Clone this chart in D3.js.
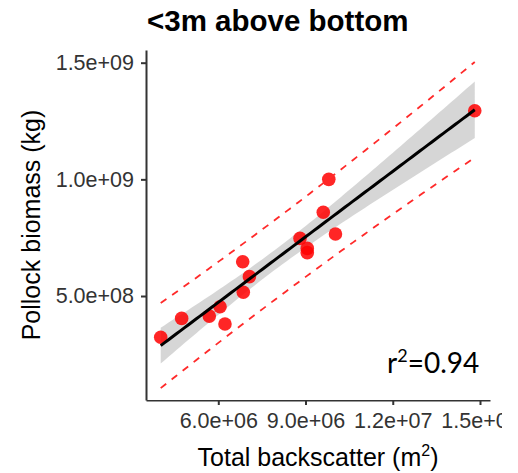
<!DOCTYPE html>
<html>
<head>
<meta charset="utf-8">
<script src="https://cdn.jsdelivr.net/npm/d3@7"></script>
<style>
  body { margin: 0; background: #fff; }
  svg text { font-family: "Liberation Sans", Arial, sans-serif; }
</style>
</head>
<body>
<div class="mainContainer"></div>
<script>
// values
var backscatter = [4.02e6, 4.74e6, 5.69e6, 6.06e6, 6.23e6, 6.84e6, 6.86e6, 7.07e6,
                   8.81e6, 9.06e6, 9.06e6, 9.61e6, 9.80e6, 10.03e6, 14.82e6];
var biomass = [3.23e8, 4.04e8, 4.14e8, 4.54e8, 3.80e8, 6.47e8, 5.16e8, 5.83e8,
               7.47e8, 7.04e8, 6.86e8, 8.59e8, 1.0e9, 7.66e8, 1.294e9];
var xTicks = [6e6, 9e6, 1.2e7, 1.5e7];
var yTicks = [5e8, 1e9, 1.5e9];
var rSquaredLabel = "0.94";

var W = 518, H = 473;
var pLeft = 146, pRight = 490, pTop = 50, pBottom = 400;

var svg = d3.select(".mainContainer").append("svg")
  .attr("width", W).attr("height", H);

var x = d3.scaleLinear().domain([3.514e6, 1.5344e7]).range([pLeft, pRight]);
var y = d3.scaleLinear().domain([5.43e7, 1.5544e9]).range([pBottom, pTop]);

// least squares fit, 95% confidence and prediction bands
var n = backscatter.length;
var mx = d3.mean(backscatter), my = d3.mean(biomass);
var sxx = d3.sum(backscatter, function(v) { return (v - mx) * (v - mx); });
var sxy = d3.sum(backscatter, function(v, i) { return (v - mx) * (biomass[i] - my); });
var slope = sxy / sxx, intercept = my - slope * mx;
var sse = d3.sum(backscatter, function(v, i) { var r = biomass[i] - (intercept + slope * v); return r * r; });
var s = Math.sqrt(sse / (n - 2));
var tq = 2.1604; // t(0.975, 13)

var xmin = d3.min(backscatter), xmax = d3.max(backscatter);
var grid = d3.range(0, 81).map(function(i) { return xmin + (xmax - xmin) * i / 80; });
var fit = grid.map(function(v) {
  var yh = intercept + slope * v;
  var d = (v - mx) * (v - mx) / sxx;
  var ci = tq * s * Math.sqrt(1 / n + d);
  var pi = tq * s * Math.sqrt(1 + 1 / n + d);
  return { x: v, y: yh, lo: yh - ci, hi: yh + ci, plo: yh - pi, phi: yh + pi };
});

// ribbon
svg.append("path").datum(fit)
  .attr("d", d3.area().x(function(d) { return x(d.x); }).y0(function(d) { return y(d.lo); }).y1(function(d) { return y(d.hi); }))
  .style("fill", "#999").style("opacity", 0.4);

// points
svg.selectAll("circle.pt").data(backscatter).enter().append("circle")
  .attr("class", "pt")
  .attr("cx", function(d) { return x(d); })
  .attr("cy", function(d, i) { return y(biomass[i]); })
  .attr("r", 6.8)
  .style("fill", "#ff0000").style("opacity", 0.85);

// fit line
svg.append("path").datum(fit)
  .attr("d", d3.line().x(function(d) { return x(d.x); }).y(function(d) { return y(d.y); }))
  .style("fill", "none").style("stroke", "#000").style("stroke-width", 3);

// prediction lines
["plo", "phi"].forEach(function(k) {
  svg.append("path").datum(fit)
    .attr("d", d3.line().x(function(d) { return x(d.x); }).y(function(d) { return y(d[k]); }))
    .style("fill", "none").style("stroke", "#ff2a2a").style("stroke-width", 1.8)
    .style("stroke-dasharray", "7,7");
});

// axes
function sci(v) {
  return d3.format(".1e")(v).replace(/e([+-])(\d)$/, "e$10$2");
}
svg.append("defs").append("clipPath").attr("id", "clipR")
  .append("rect").attr("x", 0).attr("y", 0).attr("width", 502).attr("height", H);

var xAxis = svg.append("g").attr("transform", "translate(0," + pBottom + ")")
  .attr("clip-path", "url(#clipR)")
  .call(d3.axisBottom(x).tickValues(xTicks).tickFormat(sci).tickSize(5).tickSizeOuter(0).tickPadding(8));
var yAxis = svg.append("g").attr("transform", "translate(" + pLeft + ",0)")
  .call(d3.axisLeft(y).tickValues(yTicks).tickFormat(sci).tickSize(5).tickSizeOuter(0).tickPadding(7));
[xAxis, yAxis].forEach(function(a) {
  a.select(".domain").style("stroke", "#333").style("stroke-width", 2);
  a.selectAll(".tick line").style("stroke", "#333").style("stroke-width", 2);
  a.selectAll(".tick text").style("fill", "#333").style("font-size", "21.5px")
    .style("font-family", "'Liberation Sans', Arial, sans-serif");
});

// title and labels
svg.append("text").attr("x", 147).attr("y", 31)
  .style("font-size", "29.5px").style("font-weight", "bold").style("fill", "#000")
  .text("<3m above bottom");

svg.append("text").attr("transform", "translate(40," + ((pTop + pBottom) / 2) + ") rotate(-90)")
  .attr("text-anchor", "middle").style("font-size", "25px").style("fill", "#000")
  .text("Pollock biomass (kg)");

var xl = svg.append("text").attr("x", (pLeft + pRight) / 2).attr("y", 466)
  .attr("text-anchor", "middle").style("font-size", "25px").style("fill", "#000");
xl.append("tspan").text("Total backscatter (m");
xl.append("tspan").attr("dy", -10).style("font-size", "16px").text("2");
xl.append("tspan").attr("dy", 10).text(")");

var r2 = svg.append("text").attr("x", 387).attr("y", 373)
  .style("font-family", "Lato, sans-serif").style("font-size", "28px").style("fill", "#000");
r2.append("tspan").text("r");
r2.append("tspan").attr("dy", -11).style("font-size", "18px").text("2");
r2.append("tspan").attr("dy", 11).text("=" + rSquaredLabel);
</script>
</body>
</html>
